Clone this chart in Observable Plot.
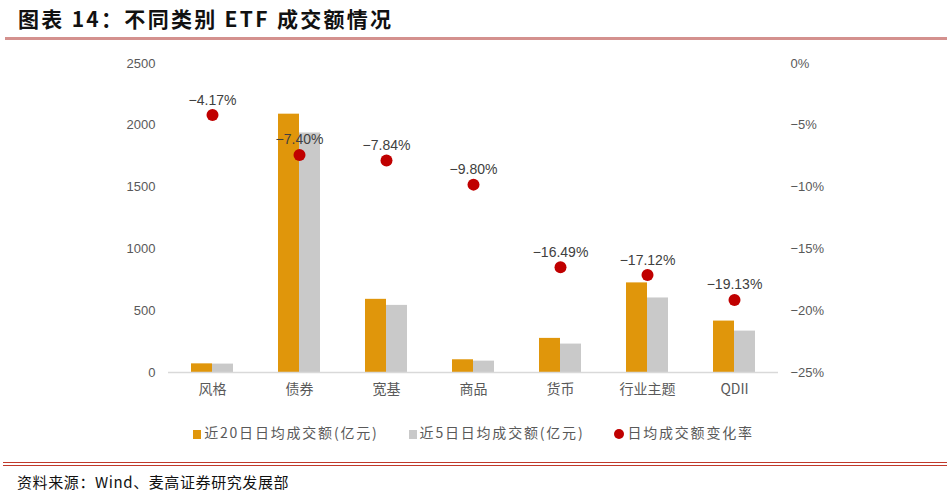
<!DOCTYPE html>
<html>
<head>
<meta charset="utf-8">
<script src="https://cdn.jsdelivr.net/npm/d3@7"></script>
<script src="https://cdn.jsdelivr.net/npm/@observablehq/plot@0.6"></script>
<style>
  html, body { margin: 0; padding: 0; background: #fff; }
  body { width: 947px; height: 503px; position: relative; overflow: hidden; font-family: "Noto Sans CJK SC", "Noto Sans", sans-serif; }
  #title { position: absolute; left: 18px; top: 3px; font-size: 21px; font-weight: bold; color: #111; letter-spacing: 2.3px; white-space: nowrap; }
  #titleLine { position: absolute; left: 5px; right: 0; top: 37px; height: 3px; background: #d4918e; }
  #chart { position: absolute; left: 0; top: 50px; }
  #legend { position: absolute; left: 0; width: 947px; top: 422px; text-align: center; font-size: 14px; color: #595959; white-space: nowrap; letter-spacing: 1.8px; }
  #legend span.item { display: inline-block; margin: 0 15px; }
  #legend i { display: inline-block; width: 8px; height: 9px; margin-right: 3px; vertical-align: -1px; }
  #legend i.c { border-radius: 50%; width: 10px; height: 10px; }
  #foot1 { position: absolute; left: 3px; right: 0; top: 462px; height: 1px; background: #c0392b; }
  #foot2 { position: absolute; left: 3px; right: 0; top: 465px; height: 1px; background: #c0392b; }
  #source { position: absolute; left: 17px; top: 471px; font-size: 15px; color: #111; white-space: nowrap; letter-spacing: 0.6px; }
</style>
</head>
<body>
<div id="title">图表 14：不同类别 ETF 成交额情况</div>
<div id="titleLine"></div>
<div id="chart"></div>
<div id="legend"></div>
<div id="foot1"></div>
<div id="foot2"></div>
<div id="source">资料来源：Wind、麦高证券研究发展部</div>
<script>
const categories = ["风格", "债券", "宽基", "商品", "货币", "行业主题", "QDII"];
const avg20 = [70, 2090, 592, 103, 276, 725, 416];
const avg5 = [68, 1938, 543, 92, 230, 603, 335];
const changePct = [-4.17, -7.40, -7.84, -9.80, -16.49, -17.12, -19.13];
const leftTicks = [0, 500, 1000, 1500, 2000, 2500];
const rightTicks = [0, -5, -10, -15, -20, -25];
const seriesNames = ["近20日日均成交额(亿元)", "近5日日均成交额(亿元)", "日均成交额变化率"];
const colors = ["#e0960b", "#c9c9c9", "#c00000"];

// right axis: percent mapped onto the left scale (-25% -> 0, 0% -> 2500)
const pctToLeft = p => (p + 25) * 100;

const rows = categories.map((c, i) => ({cat: c, a20: avg20[i], a5: avg5[i], pct: changePct[i]}));
const fmtPct = d3.format(".2f");

const chart = Plot.plot({
  width: 947,
  height: 355,
  marginTop: 13,
  marginBottom: 33,
  marginLeft: 168,
  marginRight: 169,
  style: {fontFamily: "'Liberation Sans', Arial, sans-serif", fontSize: "13px", color: "#595959", background: "transparent"},
  x: {domain: categories, paddingInner: 0.518, paddingOuter: 0.259, label: null},
  y: {domain: [0, 2500], label: null},
  marks: [
    Plot.barY(rows, {x: "cat", y: "a20", fill: colors[0], insetRight: 21, insetLeft: 0}),
    Plot.barY(rows, {x: "cat", y: "a5", fill: colors[1], insetLeft: 21, insetRight: 0}),
    Plot.ruleY([0], {stroke: "#d9d9d9", strokeWidth: 1.5}),
    Plot.dot(rows, {x: "cat", y: d => pctToLeft(d.pct), r: 6, fill: colors[2], stroke: "none"}),
    Plot.text(rows, {x: "cat", y: d => pctToLeft(d.pct), text: d => fmtPct(d.pct) + "%", dy: -15, fill: "#404040", fontSize: 14, fontFamily: "'Liberation Sans', Arial, sans-serif"}),
    Plot.axisY({anchor: "left", ticks: leftTicks, tickFormat: d3.format("d"), tickSize: 0, tickPadding: 13, label: null, fill: "#595959"}),
    Plot.axisY({anchor: "right", ticks: rightTicks.map(pctToLeft), tickFormat: v => d3.format("")(v / 100 - 25).replace("-", "−") + "%", tickSize: 0, tickPadding: 12, label: null, fill: "#595959"}),
    Plot.axisX({anchor: "bottom", tickSize: 0, tickPadding: 12, label: null, fontSize: 14, fill: "#595959", fontFamily: "'Noto Sans CJK SC', sans-serif"})
  ]
});
document.getElementById("chart").appendChild(chart);

const legend = document.getElementById("legend");
seriesNames.forEach((n, i) => {
  const s = document.createElement("span");
  s.className = "item";
  const m = document.createElement("i");
  if (i === 2) m.className = "c";
  m.style.background = colors[i];
  s.appendChild(m);
  s.appendChild(document.createTextNode(n));
  legend.appendChild(s);
});
</script>
</body>
</html>
